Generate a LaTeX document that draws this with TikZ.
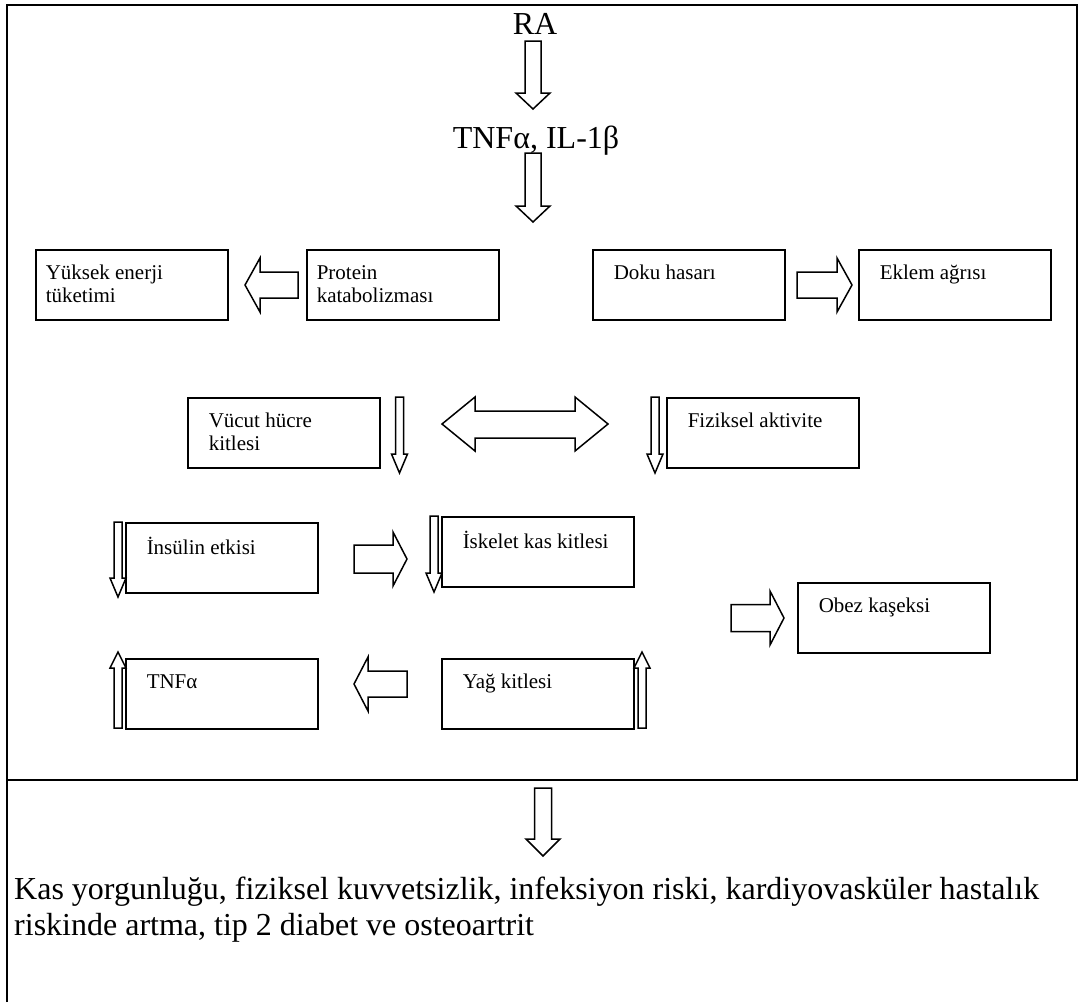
\documentclass[tikz,border=0pt]{standalone}
\usepackage{fontspec}
\setmainfont{Liberation Serif}
\usetikzlibrary{calc}
\tikzset{
  boxn/.style={draw, line width=1.5pt, inner sep=0pt, anchor=north west},
  blockarr/.style={draw, line width=1.5pt, fill=white, line join=miter},
  framel/.style={line width=2pt},
  bigtext/.style={font=\fontsize{32}{37}\selectfont, inner sep=0pt},
}
\newcommand{\bxt}[2][21pt]{\parbox[t][70pt][t]{192pt}{\leftskip=#1\fontsize{21}{23}\selectfont\vspace*{14pt}\strut #2\par}}
\newcommand{\blockarrow}[5]{%
  \coordinate (tmph) at ($(#2)!#5!(#1)$);
  \draw[blockarr] ($(#1)!#3!90:(#2)$) -- ($(tmph)!#3!90:(#2)$) -- ($(tmph)!#4!90:(#2)$) -- (#2) -- ($(tmph)!#4!-90:(#2)$) -- ($(tmph)!#3!-90:(#2)$) -- ($(#1)!#3!-90:(#2)$) -- cycle;}
\begin{document}
\begin{tikzpicture}[x=1pt,y=-1pt]
\useasboundingbox (0,0) rectangle (1078,1002);
% frame
\draw[framel] (7,1002) -- (7,5) -- (1078,5);
\draw[framel] (1077,5) -- (1077,780);
\draw[line width=2.5pt] (7,780) -- (1078,780);
% top texts
\node[bigtext, anchor=base] (ra) at (535,34) {RA};
\node[bigtext, anchor=base] (tnf) at (536,148) {TNFα, IL-1β};
% boxes
\node[boxn] (yuksek) at (35,249) {\bxt[10pt]{Yüksek enerji\\tüketimi}};
\node[boxn] (protein) at (306,249) {\bxt[10pt]{Protein\\katabolizması}};
\node[boxn] (doku) at (592,249) {\bxt{Doku hasarı}};
\node[boxn] (eklem) at (858,249) {\bxt{Eklem ağrısı}};
\node[boxn] (vucut) at (187,397) {\bxt{Vücut hücre\\kitlesi}};
\node[boxn] (fiziksel) at (666,397) {\bxt{Fiziksel aktivite}};
\node[boxn] (insulin) at (125,522) {\bxt{İnsülin etkisi}};
\node[boxn] (iskelet) at (441,516) {\bxt{İskelet kas kitlesi}};
\node[boxn] (obez) at (797,582) {\bxt{Obez kaşeksi}};
\node[boxn] (tnfb) at (125,658) {\bxt{TNFα}};
\node[boxn] (yag) at (441,658) {\bxt{Yağ kitlesi}};
% bottom text
\node[bigtext, anchor=base west] (out1) at (14,899) {Kas yorgunluğu, fiziksel kuvvetsizlik, infeksiyon riski, kardiyovasküler hastalık};
\node[bigtext, anchor=base west] (out2) at (14,935) {riskinde artma, tip 2 diabet ve osteoartrit};
% arrow end points
\coordinate (a1s) at (533,41);   \coordinate (a1e) at (533,109);
\coordinate (a2s) at (533,153);  \coordinate (a2e) at (533,222);
\coordinate (a3s) at (298,285);  \coordinate (a3e) at (245,285);
\coordinate (a4s) at (797,285);  \coordinate (a4e) at (852,285);
\coordinate (a5s) at (399.5,397);\coordinate (a5e) at (399.5,473);
\coordinate (a7s) at (655,397);  \coordinate (a7e) at (655,473);
\coordinate (a8s) at (118,522);  \coordinate (a8e) at (118,597);
\coordinate (a9s) at (354,559);  \coordinate (a9e) at (407,559);
\coordinate (a10s) at (434,516); \coordinate (a10e) at (434,592);
\coordinate (a11s) at (731,618); \coordinate (a11e) at (784,618);
\coordinate (a12s) at (118,728); \coordinate (a12e) at (118,652);
\coordinate (a13s) at (407,684); \coordinate (a13e) at (354,684);
\coordinate (a14s) at (642,728); \coordinate (a14e) at (642,652);
\coordinate (a15s) at (543,788); \coordinate (a15e) at (543,856);
% big vertical arrows
\blockarrow{a1s}{a1e}{8pt}{17pt}{16pt}
\blockarrow{a2s}{a2e}{8pt}{17pt}{16pt}
\blockarrow{a15s}{a15e}{8.5pt}{17pt}{17pt}
% horizontal block arrows
\blockarrow{a3s}{a3e}{13pt}{27pt}{15pt}
\blockarrow{a4s}{a4e}{13pt}{27pt}{15pt}
\blockarrow{a9s}{a9e}{14pt}{27pt}{14pt}
\blockarrow{a11s}{a11e}{13.5pt}{27pt}{14pt}
\blockarrow{a13s}{a13e}{13pt}{27pt}{14pt}
% thin vertical arrows
\blockarrow{a5s}{a5e}{4pt}{8pt}{19pt}
\blockarrow{a7s}{a7e}{4pt}{8pt}{19pt}
\blockarrow{a8s}{a8e}{4pt}{8pt}{19pt}
\blockarrow{a10s}{a10e}{4pt}{8pt}{19pt}
\blockarrow{a12s}{a12e}{4pt}{8pt}{16pt}
\blockarrow{a14s}{a14e}{4pt}{8pt}{16pt}
% double arrow
\coordinate (dl) at (442,424);
\coordinate (dr) at (608,424);
\draw[blockarr] (dl) -- ($(dl)+(33,-27)$) -- ($(dl)+(33,-13)$) -- ($(dr)+(-33,-13)$) -- ($(dr)+(-33,-27)$) -- (dr)
  -- ($(dr)+(-33,27)$) -- ($(dr)+(-33,14)$) -- ($(dl)+(33,14)$) -- ($(dl)+(33,27)$) -- cycle;
\end{tikzpicture}
\end{document}
